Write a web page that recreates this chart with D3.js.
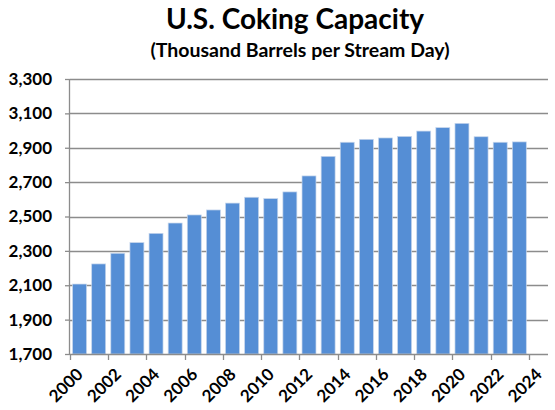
<!DOCTYPE html>
<html>
<head>
<meta charset="utf-8">
<script src="https://cdn.jsdelivr.net/npm/d3@7"></script>
<style>
  body { margin: 0; background: #fff; }
  text { font-family: Lato, "Open Sans", sans-serif; font-weight: bold; fill: #000; }
</style>
</head>
<body>
<div id="viz"></div>
<script>
// values
const years = d3.range(2000, 2025).map(String);
const capacity = [2107, 2224, 2286, 2348, 2402, 2462, 2509, 2538, 2578, 2612,
  2604, 2643, 2736, 2850, 2932, 2949, 2957, 2966, 2997, 3017,
  3042, 2964, 2932, 2934, null];
const yTicks = [1700, 1900, 2100, 2300, 2500, 2700, 2900, 3100, 3300];
const yearLabels = years.filter((d, i) => i % 2 === 0);

const width = 555;
const height = 410;
const margin = { top: 79, right: 7, bottom: 56, left: 70 };

const svg = d3.select('#viz')
  .append('svg')
  .attr('width', width)
  .attr('height', height);

const x = d3.scaleBand()
  .domain(years)
  .range([margin.left, width - margin.right])
  .paddingInner(0.27)
  .paddingOuter(0.135);

const y = d3.scaleLinear()
  .domain([1700, 3300])
  .range([height - margin.bottom, margin.top]);

// gridlines
svg.append('g')
  .selectAll('line')
  .data(yTicks.slice(1))
  .join('line')
  .attr('x1', margin.left)
  .attr('x2', width - margin.right)
  .attr('y1', d => Math.round(y(d)) + 0.5)
  .attr('y2', d => Math.round(y(d)) + 0.5)
  .attr('stroke', '#8c8c8c')
  .attr('stroke-width', 1.3);

// bars
const data = years.map((yr, i) => ({ yr, v: capacity[i] })).filter(d => d.v != null);
svg.append('g')
  .selectAll('rect')
  .data(data)
  .join('rect')
  .attr('x', d => x(d.yr))
  .attr('y', d => y(d.v))
  .attr('width', x.bandwidth())
  .attr('height', d => y(1700) - y(d.v))
  .attr('fill', '#558ed5')
  .attr('stroke', '#c6d6ec')
  .attr('stroke-width', 0.7);

// y axis
const yAxis = d3.axisLeft(y)
  .tickValues(yTicks)
  .tickSize(5)
  .tickFormat(d3.format(','));

svg.append('g')
  .attr('transform', `translate(${margin.left},0)`)
  .call(yAxis)
  .call(g => g.selectAll('path, line').attr('stroke', '#8c8c8c').attr('stroke-width', 1.3))
  .call(g => g.selectAll('text')
    .attr('x', -18)
    .style('font-size', '17px'))
  .call(g => g.select('.domain').attr('d', `M-0.5,${margin.top}V${height - margin.bottom}`));

// x axis: ticks at every second category boundary
const step = x.step();
const xTickPos = d3.range(0, years.length, 2).map(i => margin.left + i * step);
const xg = svg.append('g')
  .attr('transform', `translate(0,${height - margin.bottom})`);
xg.append('line')
  .attr('x1', margin.left)
  .attr('x2', width - margin.right)
  .attr('y1', 0.5)
  .attr('y2', 0.5)
  .attr('stroke', '#8c8c8c')
  .attr('stroke-width', 1.3);
xg.selectAll('line.tick')
  .data(xTickPos)
  .join('line')
  .classed('tick', true)
  .attr('x1', d => Math.round(d) + 0.5)
  .attr('x2', d => Math.round(d) + 0.5)
  .attr('y1', 0)
  .attr('y2', 6)
  .attr('stroke', '#8c8c8c')
  .attr('stroke-width', 1.3);
xg.selectAll('text')
  .data(yearLabels)
  .join('text')
  .attr('transform', d => `translate(${x(d) + x.bandwidth() / 2 - 4},13) rotate(-45)`)
  .attr('text-anchor', 'end')
  .attr('dy', '0.7em')
  .style('font-size', '17px')
  .text(d => d);

// titles
svg.append('text')
  .attr('x', 295)
  .attr('y', 29)
  .attr('text-anchor', 'middle')
  .style('font-size', '28px')
  .text('U.S. Coking Capacity');

svg.append('text')
  .attr('x', 300)
  .attr('y', 57)
  .attr('text-anchor', 'middle')
  .style('font-size', '19.5px')
  .text('(Thousand Barrels per Stream Day)');
</script>
</body>
</html>
